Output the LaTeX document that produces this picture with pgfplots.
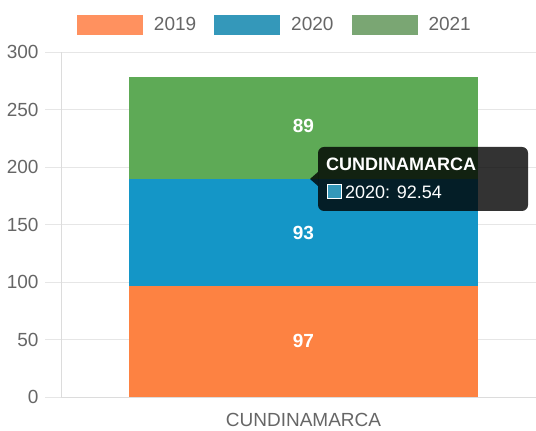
\documentclass[border=0pt]{standalone}
\usepackage{pgfplots}
\pgfplotsset{compat=1.18}
\usepackage{fontspec}
\setmainfont{Liberation Sans}
\definecolor{barorange}{RGB}{253,130,66}
\definecolor{barblue}{RGB}{20,150,199}
\definecolor{bargreen}{RGB}{94,170,86}
\definecolor{legorange}{RGB}{255,145,95}
\definecolor{legblue}{RGB}{52,152,186}
\definecolor{leggreen}{RGB}{122,166,115}
\definecolor{gridgray}{RGB}{230,230,230}
\definecolor{axgray}{RGB}{220,220,220}
\definecolor{tickgray}{RGB}{102,102,102}

\begin{document}
\fontsize{19}{23}\selectfont
\begin{tikzpicture}[x=1pt,y=1pt]
\path[use as bounding box] (0,0) rectangle (536,431);
\begin{axis}[
    at={(61pt,34pt)}, anchor=south west,
    scale only axis, width=485pt, height=345pt,
    xmin=-0.5, xmax=0.5, ymin=0, ymax=300,
    ybar stacked, bar width=349pt,
    xtick={0}, xticklabels={CUNDINAMARCA},
    ytick distance=50,
    axis x line*=bottom, axis y line*=left,
    axis line style={-, draw=axgray, line width=0.9pt},
    ymajorgrids, grid style={gridgray, line width=0.9pt},
    major tick length=16pt, tick align=outside,
    xtick style={draw=none},
    xticklabel style={yshift=6pt},
    ytick style={gridgray, line width=0.9pt},
    tick label style={text=tickgray, font=\fontsize{19}{23}\selectfont},
    /pgf/number format/assume math mode=true,
    legend columns=3,
    legend style={at={(0.441,1.078)}, anchor=center, draw=none, fill=none,
        text=tickgray, font=\fontsize{19}{23}\selectfont,
        /tikz/every even column/.append style={column sep=16pt},
        /tikz/every odd column/.append style={column sep=9pt}},
]
\addplot[fill=barorange, draw=none,
    legend image code/.code={\fill[legorange] (0pt,-10pt) rectangle (66pt,10pt);}]
    coordinates {(0,96.6)};
\addlegendentry{2019}
\addplot[fill=barblue, draw=none,
    legend image code/.code={\fill[legblue] (0pt,-10pt) rectangle (66pt,10pt);}]
    coordinates {(0,92.54)};
\addlegendentry{2020}
\addplot[fill=bargreen, draw=none,
    legend image code/.code={\fill[leggreen] (0pt,-10pt) rectangle (66pt,10pt);}]
    coordinates {(0,89.3)};
\addlegendentry{2021}
\coordinate (v1) at (axis cs:0,48.3);
\coordinate (v2) at (axis cs:0,142.9);
\coordinate (v3) at (axis cs:0,235.6);
\end{axis}
\node[text=white, font=\bfseries\fontsize{19}{23}\selectfont] at (v1) {97};
\node[text=white, font=\bfseries\fontsize{19}{23}\selectfont] at (v2) {93};
\node[text=white, font=\bfseries\fontsize{19}{23}\selectfont] at (v3) {89};
% tooltip
\fill[black, opacity=0.8, rounded corners=6pt] (318,220) rectangle (528,284);
\fill[black, opacity=0.8] (318,259) -- (310,252) -- (318,245) -- cycle;
\node[anchor=west, text=white, inner sep=0pt, font=\bfseries\fontsize{18}{22}\selectfont] at (326,267) {CUNDINAMARCA};
\draw[white, line width=1pt, fill=legblue] (327,232) rectangle (341,246);
\node[anchor=west, text=white, inner sep=0pt, font=\fontsize{18}{22}\selectfont] at (345,239) {2020: 92.54};
\end{tikzpicture}
\end{document}
